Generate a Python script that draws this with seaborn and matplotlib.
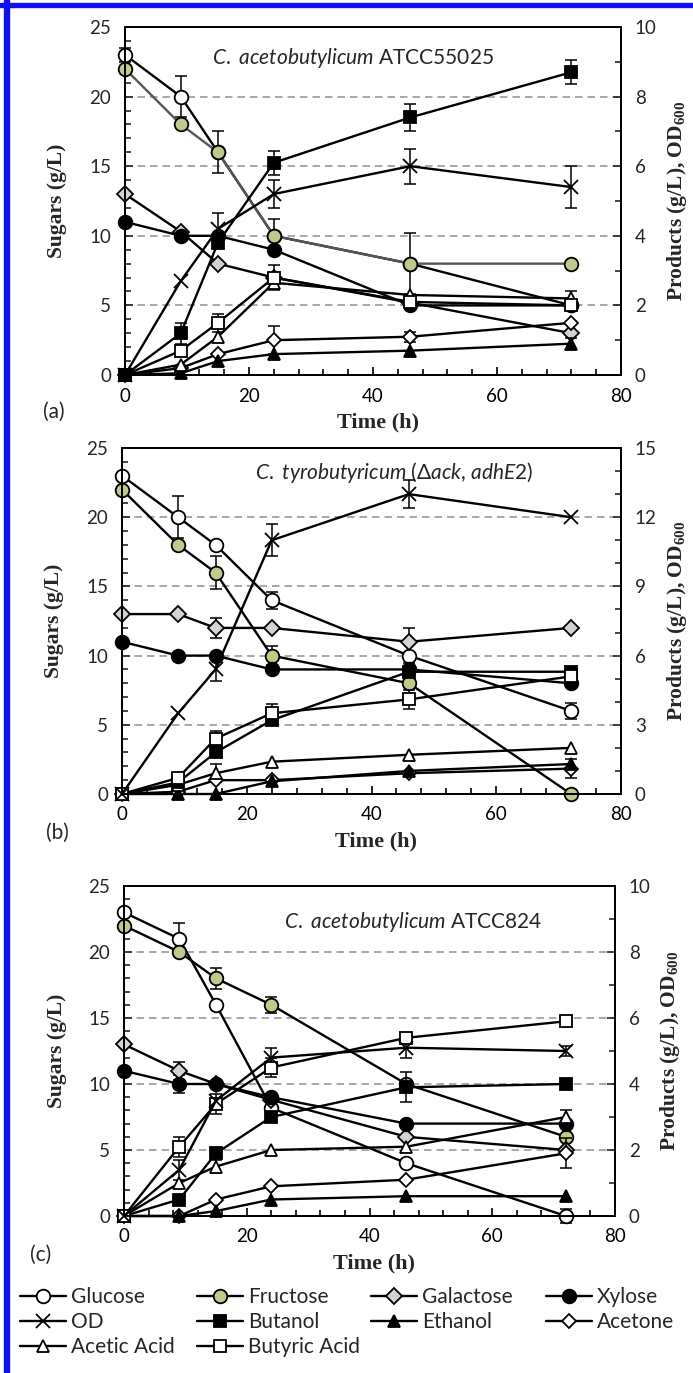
import matplotlib
matplotlib.use("Agg")
import matplotlib.pyplot as plt
import seaborn as sns
import numpy as np
from matplotlib.lines import Line2D
from matplotlib.patches import Rectangle
from matplotlib.ticker import MultipleLocator

# ---------------- data ----------------
time_h = [0, 9, 15, 24, 46, 72]

# Panel (a) C. acetobutylicum ATCC55025  (sugars g/L, products g/L / OD600)
a_glucose = [23, 20, 16, 10, 8, 5]
a_fructose = [22, 18, 16, 10, 8, 8]
a_galactose = [13, 10.3, 8, 7, 5.2, 3]
a_xylose = [11, 10, 10, 9, 5, 5]
a_od = [0, 2.7, 4.2, 5.2, 6.0, 5.4]
a_butanol = [0, 1.2, 3.8, 6.1, 7.4, 8.7]
a_ethanol = [0, 0.05, 0.4, 0.6, 0.7, 0.9]
a_acetone = [0, 0.2, 0.6, 1.0, 1.1, 1.5]
a_acetic = [0, 0.3, 1.1, 2.65, 2.3, 2.2]
a_butyric = [0, 0.7, 1.5, 2.8, 2.1, 2.0]

a_glucose_err = [0.5, 1.5, 0, 0, 0, 0]
a_fructose_err = [0, 0, 1.5, 1.2, 2.2, 0]
a_od_err = [0, 0, 0.45, 0.4, 0.5, 0.6]
a_butanol_err = [0, 0.3, 0, 0.35, 0.4, 0.35]
a_butyric_err = [0, 0, 0.25, 0.35, 0, 0]
a_acetone_err = [0, 0, 0, 0.4, 0.15, 0]
a_acetic_err = [0, 0, 0, 0, 0, 0.2]
a_ethanol_err = [0, 0, 0, 0, 0, 0.15]

# Panel (b) C. tyrobutyricum (Δack, adhE2)
b_glucose = [23, 20, 18, 14, 10, 6]
b_fructose = [22, 18, 16, 10, 8, 0]
b_galactose = [13, 13, 12, 12, 11, 12]
b_xylose = [11, 10, 10, 9, 9, 8]
b_od = [0, 3.5, 5.4, 11.0, 13.0, 12.0]
b_butanol = [0, 0.5, 1.8, 3.2, 5.3, 5.3]
b_ethanol = [0, 0, 0, 0.55, 1.0, 1.3]
b_acetone = [0, 0.1, 0.6, 0.6, 0.9, 1.1]
b_acetic = [0, 0.4, 0.9, 1.4, 1.7, 2.0]
b_butyric = [0, 0.7, 2.4, 3.5, 4.1, 5.1]

b_glucose_err = [0, 1.5, 0, 0.6, 0, 0.6]
b_fructose_err = [0, 0, 1.2, 0.7, 0, 0]
b_galactose_err = [0, 0, 0.7, 0, 1.0, 0]
b_xylose_err = [0, 0, 0, 0, 0.5, 0]
b_od_err = [0, 0, 0.5, 0.7, 0.6, 0]
b_butyric_err = [0, 0, 0.35, 0.4, 0.4, 0]
b_acetic_err = [0, 0, 0.4, 0, 0, 0]
b_acetone_err = [0, 0, 0, 0, 0, 0.4]

# Panel (c) C. acetobutylicum ATCC824
c_glucose = [23, 21, 16, 8.2, 4, 0]
c_fructose = [22, 20, 18, 16, 10, 6]
c_galactose = [13, 11, 10, 8.8, 6, 5]
c_xylose = [11, 10, 10, 9, 7, 7]
c_od = [0, 1.4, 3.5, 4.8, 5.1, 5.0]
c_butanol = [0, 0.5, 1.9, 3.0, 3.9, 4.0]
c_ethanol = [0, 0, 0.15, 0.5, 0.6, 0.6]
c_acetone = [0, 0, 0.5, 0.9, 1.1, 1.9]
c_acetic = [0, 1.0, 1.5, 2.0, 2.1, 3.0]
c_butyric = [0, 2.1, 3.4, 4.5, 5.4, 5.9]

c_glucose_err = [0, 1.2, 0, 0, 0, 0.5]
c_fructose_err = [0, 0, 0.8, 0.6, 0, 0]
c_galactose_err = [0, 0.7, 0, 0, 0, 0]
c_xylose_err = [0, 0.7, 0, 0, 0, 0]
c_od_err = [0, 0.3, 0, 0.3, 0.3, 0.15]
c_butyric_err = [0, 0.3, 0.3, 0.3, 0, 0]
c_butanol_err = [0, 0, 0, 0, 0.45, 0]
c_acetic_err = [0, 0, 0.2, 0, 0, 0.2]
c_acetone_err = [0, 0, 0, 0, 0, 0.45]

titles = [r"$\mathit{C.\ acetobutylicum}$ ATCC55025",
          r"$\mathit{C.\ tyrobutyricum}$ (Δ$\mathit{ack}$, $\mathit{adhE2}$)",
          r"$\mathit{C.\ acetobutylicum}$ ATCC824"]
panel_tags = ["(a)", "(b)", "(c)"]
legend_labels = ["Glucose", "Fructose", "Galactose", "Xylose", "OD",
                 "Butanol", "Ethanol", "Acetone", "Acetic Acid", "Butyric Acid"]

# ---------------- style ----------------
sns.set_style("white")
plt.rcParams["font.family"] = ["Lato", "DejaVu Sans"]
plt.rcParams["mathtext.fontset"] = "custom"
plt.rcParams["mathtext.rm"] = "Lato"
plt.rcParams["mathtext.it"] = "Lato:italic"
plt.rcParams["mathtext.bf"] = "Liberation Serif:bold"

FRUCT = "#c2c98b"
GALAC = "#cfd5d2"
STY = {
    "Glucose": dict(marker="o", markersize=9.8, markerfacecolor="white"),
    "Fructose": dict(marker="o", markersize=9.8, markerfacecolor=FRUCT),
    "Galactose": dict(marker="D", markersize=8, markerfacecolor=GALAC),
    "Xylose": dict(marker="o", markersize=9.8, markerfacecolor="black"),
    "OD": dict(marker="x", markersize=10, markerfacecolor="none"),
    "Butanol": dict(marker="s", markersize=9.2, markerfacecolor="black"),
    "Ethanol": dict(marker="^", markersize=9, markerfacecolor="black"),
    "Acetone": dict(marker="D", markersize=7.5, markerfacecolor="white"),
    "Acetic Acid": dict(marker="^", markersize=9, markerfacecolor="white"),
    "Butyric Acid": dict(marker="s", markersize=9.2, markerfacecolor="white"),
}
LW = 1.7
MEW = 1.3

fig = plt.figure(figsize=(6.93, 13.73), dpi=100)
W, H = 693.0, 1373.0

# blue frame (left and top)
fig.patches.append(Rectangle((4 / W, 0), 4.5 / W, 1, transform=fig.transFigure,
                             color="#1010ee", zorder=10))
fig.patches.append(Rectangle((0, 1 - 7 / H), 1, 4 / H, transform=fig.transFigure,
                             color="#1010ee", zorder=10))

axes_px = [(125, 375, 496, 348), (122, 794, 499, 346), (124, 1216, 491, 330)]
right_max = [10, 15, 10]
right_step = [2, 3, 2]
title_pos = [(0.46, 0.91), (0.545, 0.93), (0.59, 0.89)]
tag_px = [(54, 412), (57, 833), (41, 1255)]

panels = [
    dict(sug=[("Glucose", a_glucose, a_glucose_err), ("Fructose", a_fructose, a_fructose_err),
              ("Galactose", a_galactose, None), ("Xylose", a_xylose, None)],
         prod=[("Acetone", a_acetone, a_acetone_err), ("Ethanol", a_ethanol, a_ethanol_err),
               ("Acetic Acid", a_acetic, a_acetic_err), ("Butyric Acid", a_butyric, a_butyric_err),
               ("OD", a_od, a_od_err), ("Butanol", a_butanol, a_butanol_err)]),
    dict(sug=[("Glucose", b_glucose, b_glucose_err), ("Fructose", b_fructose, b_fructose_err),
              ("Galactose", b_galactose, b_galactose_err), ("Xylose", b_xylose, b_xylose_err)],
         prod=[("Acetone", b_acetone, b_acetone_err), ("Ethanol", b_ethanol, None),
               ("Acetic Acid", b_acetic, b_acetic_err), ("Butanol", b_butanol, None),
               ("Butyric Acid", b_butyric, b_butyric_err), ("OD", b_od, b_od_err)]),
    dict(sug=[("Glucose", c_glucose, c_glucose_err), ("Fructose", c_fructose, c_fructose_err),
              ("Galactose", c_galactose, c_galactose_err), ("Xylose", c_xylose, c_xylose_err)],
         prod=[("Acetone", c_acetone, c_acetone_err), ("Ethanol", c_ethanol, None),
               ("Acetic Acid", c_acetic, c_acetic_err), ("Butanol", c_butanol, c_butanol_err),
               ("Butyric Acid", c_butyric, c_butyric_err), ("OD", c_od, c_od_err)]),
]


def draw_series(ax, name, vals, err, line_color="black"):
    if err is not None:
        t_e = [t for t, e in zip(time_h, err) if e > 0]
        v_e = [v for v, e in zip(vals, err) if e > 0]
        e_e = [e for e in err if e > 0]
        if t_e:
            ax.errorbar(t_e, v_e, yerr=e_e, fmt="none", ecolor="black",
                        elinewidth=1.1, capsize=4, capthick=1.1, zorder=1.5,
                        clip_on=False)
    sns.lineplot(x=time_h, y=vals, ax=ax, color=line_color, linewidth=LW,
                 markeredgecolor="black", markeredgewidth=MEW, errorbar=None,
                 clip_on=False, zorder=2, **STY[name])


for i, (px, pan) in enumerate(zip(axes_px, panels)):
    l, b, w, h = px
    ax = fig.add_axes([l / W, 1 - b / H, w / W, h / H])
    ax2 = ax.twinx()
    for sp in list(ax.spines.values()) + list(ax2.spines.values()):
        sp.set_linewidth(1.4)
        sp.set_color("black")

    for v in [5, 10, 15, 20]:
        ax.axhline(v, color="#9a9a9a", lw=1.2, ls=(0, (4.5, 3)), zorder=0.5)

    for name, vals, err in pan["sug"]:
        lc = "#555555" if (i == 0 and name == "Fructose") else "black"
        draw_series(ax, name, vals, err, lc)
    for name, vals, err in pan["prod"]:
        draw_series(ax2, name, vals, err)

    for a in (ax, ax2):
        lg = a.get_legend()
        if lg is not None:
            lg.remove()

    ax.set_xlim(0, 80)
    ax.set_ylim(0, 25)
    ax2.set_ylim(0, right_max[i])
    ax.xaxis.set_major_locator(MultipleLocator(20))
    ax.xaxis.set_minor_locator(MultipleLocator(4))
    ax.yaxis.set_major_locator(MultipleLocator(5))
    ax.yaxis.set_minor_locator(MultipleLocator(1))
    ax2.yaxis.set_major_locator(MultipleLocator(right_step[i]))
    ax2.yaxis.set_minor_locator(MultipleLocator(1))

    ax.tick_params(axis="x", which="both", direction="in", bottom=True, top=False,
                   labelsize=13.5, pad=9, width=1.2, colors="black")
    ax.tick_params(axis="x", which="major", length=6)
    ax.tick_params(axis="x", which="minor", length=4)
    ax.tick_params(axis="y", which="both", direction="in", left=True, right=False,
                   labelsize=13.5, pad=10, width=1.2)
    ax.tick_params(axis="y", which="major", length=6)
    ax.tick_params(axis="y", which="minor", length=4)
    ax2.tick_params(axis="y", which="both", direction="in", right=True, left=False,
                    labelsize=13.5, pad=10, width=1.2)
    ax2.tick_params(axis="y", which="major", length=6)
    ax2.tick_params(axis="y", which="minor", length=4)
    ax.set_xlabel("")
    ax.set_ylabel("")
    ax2.set_ylabel("")

    ax.text(-0.137, 0.5, "Sugars (g/L)", transform=ax.transAxes, rotation=90,
            ha="center", va="center", fontsize=15.5, fontweight="bold",
            family="Liberation Serif")
    ax.text(1.113, 0.5, r"Products (g/L), OD$_{\mathbf{600}}$", transform=ax.transAxes,
            rotation=90, ha="center", va="center", fontsize=15.5, fontweight="bold",
            family="Liberation Serif")
    ax.text(0.51, -47 / h, "Time (h)", transform=ax.transAxes, ha="center", va="center",
            fontsize=16, fontweight="bold", family="Liberation Serif")
    ax.text(title_pos[i][0], title_pos[i][1], titles[i], transform=ax.transAxes,
            ha="center", va="center", fontsize=15, family=["Lato", "DejaVu Sans"])
    fig.text(tag_px[i][0] / W, 1 - tag_px[i][1] / H, panel_tags[i], ha="center",
             va="center", fontsize=15)

# legend: 4 columns x 3 rows
col_items = [["Glucose", "OD", "Acetic Acid"], ["Fructose", "Butanol", "Butyric Acid"],
             ["Galactose", "Ethanol"], ["Xylose", "Acetone"]]
col_x = [20, 197, 371, 546]
for cx, items in zip(col_x, col_items):
    handles = [Line2D([], [], color="black", linewidth=LW, markeredgecolor="black",
                      markeredgewidth=MEW, **STY[n]) for n in items]
    fig.legend(handles, items, loc="upper left", bbox_to_anchor=(cx / W, 1 - 1287 / H),
               frameon=False, fontsize=15, handlelength=2.2, handletextpad=0.25,
               labelspacing=0.25, borderpad=0, borderaxespad=0)

fig.savefig("out.png", dpi=100, facecolor="white")
